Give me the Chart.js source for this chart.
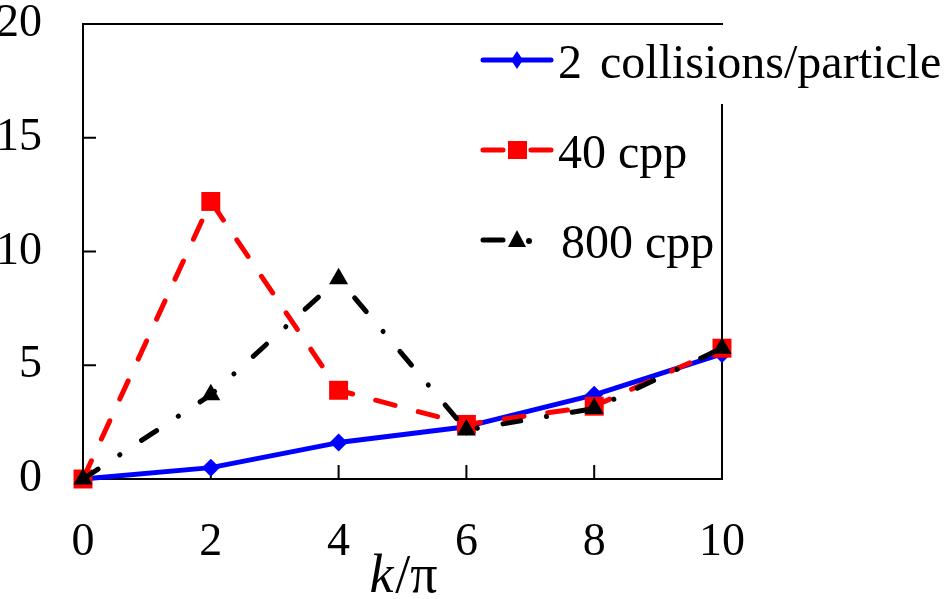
<!DOCTYPE html>
<html>
<head>
<meta charset="utf-8">
<script src="https://cdn.jsdelivr.net/npm/chart.js@4/dist/chart.umd.min.js"></script>
<style>
html,body{margin:0;padding:0;background:#fff;}
canvas{display:block;}
</style>
</head>
<body>
<canvas id="c" width="951" height="599" style="width:951px;height:599px"></canvas>
<script>
// ---- data ----
const kValues = [0, 2, 4, 6, 8, 10];
const cpp2    = [0, 0.5, 1.6, 2.3, 3.7, 5.5];
const cpp40   = [0, 12.2, 3.9, 2.4, 3.2, 5.75];
const cpp800  = [0, 3.7, 8.8, 2.15, 3.1, 5.75];
const seriesLabels = ['2 collisions/particle', '40 cpp', '800 cpp'];
const xTitleItalic = 'k';
const xTitleRest = '/\u03C0';

const FONT = '"Liberation Serif", "Times New Roman", serif';
const pts = (ys) => kValues.map((x, i) => ({x, y: ys[i]}));

const framePlugin = {
  id: 'frame',
  beforeDatasetsDraw(chart) {
    const {ctx, chartArea: a, scales} = chart;
    ctx.save();
    ctx.strokeStyle = '#000';
    ctx.lineWidth = 2;
    ctx.beginPath();
    ctx.moveTo(a.left - 1, a.top); ctx.lineTo(a.right + 1, a.top);
    ctx.moveTo(a.right, a.top + 80); ctx.lineTo(a.right, a.bottom + 1);
    scales.y.ticks.forEach(t => {
      if (t.value <= scales.y.min || t.value >= scales.y.max) return;
      const py = scales.y.getPixelForValue(t.value);
      ctx.moveTo(a.left, py); ctx.lineTo(a.left + 13, py);
    });
    scales.x.ticks.forEach(t => {
      if (t.value <= scales.x.min || t.value >= scales.x.max) return;
      const px = scales.x.getPixelForValue(t.value);
      ctx.moveTo(px, a.bottom); ctx.lineTo(px, a.bottom - 14);
    });
    ctx.stroke();
    ctx.restore();
  },
  afterDraw(chart) {
    const {ctx, chartArea: a} = chart;
    ctx.save();
    ctx.fillStyle = '#000';
    ctx.textBaseline = 'alphabetic';
    ctx.font = 'italic 54px ' + FONT;
    const wk = ctx.measureText(xTitleItalic).width;
    ctx.font = '54px ' + FONT;
    const wr = ctx.measureText(xTitleRest).width;
    const cx = (a.left + a.right) / 2;
    const x0 = cx - (wk + wr) / 2;
    ctx.font = 'italic 54px ' + FONT;
    ctx.fillText(xTitleItalic, x0, 592);
    ctx.font = '54px ' + FONT;
    ctx.fillText(xTitleRest, x0 + wk + 2, 592);

    // legend
    const lx0 = 483, lx1 = 551, mx = 517, tx = 558;
    const ys = [60, 150, 240];
    ctx.lineCap = 'round';
    ctx.lineWidth = 5;
    ctx.strokeStyle = '#0000ff'; ctx.fillStyle = '#0000ff';
    ctx.beginPath(); ctx.moveTo(lx0, ys[0]); ctx.lineTo(lx1, ys[0]); ctx.stroke();
    ctx.beginPath();
    ctx.moveTo(mx, ys[0] - 9); ctx.lineTo(mx + 6, ys[0]); ctx.lineTo(mx, ys[0] + 9); ctx.lineTo(mx - 6, ys[0]);
    ctx.closePath(); ctx.fill();
    ctx.strokeStyle = '#ff0000'; ctx.fillStyle = '#ff0000';
    ctx.beginPath(); ctx.moveTo(lx0, ys[1]); ctx.lineTo(lx0 + 20, ys[1]);
    ctx.moveTo(lx1 - 20, ys[1]); ctx.lineTo(lx1, ys[1]); ctx.stroke();
    ctx.fillRect(mx - 9, ys[1] - 9, 19, 18);
    ctx.strokeStyle = '#000'; ctx.fillStyle = '#000';
    ctx.beginPath(); ctx.moveTo(lx0, ys[2]); ctx.lineTo(lx0 + 20, ys[2]); ctx.stroke();
    ctx.beginPath();
    ctx.moveTo(mx, ys[2] - 10); ctx.lineTo(mx + 9, ys[2] + 7); ctx.lineTo(mx - 9, ys[2] + 7);
    ctx.closePath(); ctx.fill();
    ctx.beginPath(); ctx.arc(mx + 12, ys[2] + 1, 3, 0, Math.PI * 2); ctx.fill();

    ctx.fillStyle = '#000';
    ctx.font = '48px ' + FONT;
    ctx.textBaseline = 'alphabetic';
    const parts = seriesLabels[0].split(' ');
    ctx.fillText(parts[0], tx, ys[0] + 18);
    const w0 = ctx.measureText(parts[0] + ' ').width;
    ctx.fillText(parts.slice(1).join(' '), tx + w0 + 6, ys[0] + 18);
    ctx.fillText(seriesLabels[1], tx, ys[1] + 18);
    ctx.fillText(seriesLabels[2], tx + 3, ys[2] + 18);
    ctx.restore();
  }
};

new Chart(document.getElementById('c'), {
  type: 'line',
  data: {
    datasets: [
      {
        label: seriesLabels[0], data: pts(cpp2), order: 3,
        borderColor: '#0000ff', backgroundColor: '#0000ff', borderWidth: 5,
        pointStyle: 'rectRot', pointRadius: 9, pointBorderWidth: 0,
        borderCapStyle: 'round', borderJoinStyle: 'round', clip: false, tension: 0
      },
      {
        label: seriesLabels[1], data: pts(cpp40), order: 2,
        borderColor: '#ff0000', backgroundColor: '#ff0000', borderWidth: 5,
        borderDash: [20, 24], borderCapStyle: 'round',
        pointStyle: 'rect', pointRadius: 13.4, pointBorderWidth: 0, clip: false, tension: 0
      },
      {
        label: seriesLabels[2], data: pts(cpp800), order: 1,
        borderColor: '#000000', backgroundColor: '#000000', borderWidth: 5,
        borderDash: [18, 26, 0.1, 26], borderCapStyle: 'round',
        pointStyle: 'triangle', pointRadius: 11, pointBorderWidth: 0, clip: false, tension: 0
      }
    ]
  },
  options: {
    responsive: false,
    animation: false,
    layout: {padding: {top: 24, right: 229, left: 0, bottom: 0}},
    plugins: {legend: {display: false}, tooltip: {enabled: false}},
    scales: {
      x: {
        type: 'linear', min: 0, max: 10,
        ticks: {stepSize: 2, color: '#000', font: {family: FONT, size: 46}, padding: 36, maxRotation: 0},
        grid: {display: false, drawTicks: false},
        border: {display: true, color: '#000', width: 2},
        afterFit(s) { s.height = 120; s.paddingLeft = 0; s.paddingRight = 0; }
      },
      y: {
        min: 0, max: 20,
        ticks: {stepSize: 5, color: '#000', font: {family: FONT, size: 46}, padding: 41},
        grid: {display: false, drawTicks: false},
        border: {display: true, color: '#000', width: 2},
        afterFit(s) { s.width = 83; s.paddingTop = 0; s.paddingBottom = 0; }
      }
    }
  },
  plugins: [framePlugin]
});
</script>
</body>
</html>
